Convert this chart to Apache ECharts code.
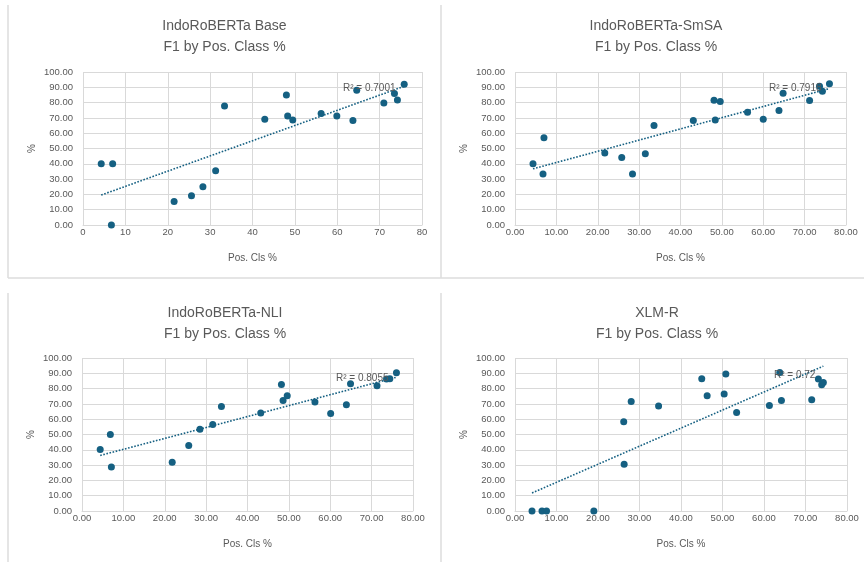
<!DOCTYPE html>
<html><head><meta charset="utf-8">
<script src="https://cdn.jsdelivr.net/npm/echarts@6/dist/echarts.min.js"></script>
<style>html,body{margin:0;padding:0;background:#fff}#c{width:864px;height:562px}</style>
</head><body><div id="c"></div>
<script>
// ---- data ----
const panelTitles = ['IndoRoBERTa Base', 'IndoRoBERTa-SmSA', 'IndoRoBERTa-NLI', 'XLM-R'];
const subTitle = 'F1 by Pos. Class %';
const r2Labels = ['R\u00B2 = 0.7001', 'R\u00B2 = 0.7918', 'R\u00B2 = 0.8055', 'R\u00B2 = 0.72'];
const xAxisName = 'Pos. Cls %';
const yAxisName = '%';

const baseX = [4.3, 7.0, 6.7, 21.5, 25.6, 28.3, 31.3, 33.4, 42.9, 48.0, 48.3, 49.5, 56.2, 59.9, 63.7, 64.6, 71.0, 73.5, 74.2, 75.8];
const baseY = [40.0, 40.0, 0.0, 15.4, 19.1, 25.0, 35.4, 77.8, 69.1, 85.0, 71.3, 68.7, 72.8, 71.3, 68.3, 88.0, 79.8, 85.9, 81.7, 92.0];

const smsaX = [4.35, 7.0, 6.77, 21.7, 25.8, 28.4, 31.5, 33.6, 43.1, 48.1, 48.4, 49.6, 56.2, 60.0, 63.8, 64.8, 71.2, 73.6, 74.3, 76.0];
const smsaY = [40.0, 57.0, 33.3, 47.0, 44.1, 33.3, 46.5, 65.0, 68.3, 81.5, 68.7, 80.7, 73.7, 69.1, 74.8, 86.1, 81.3, 90.7, 87.4, 92.4];

const nliX = [4.4, 6.85, 7.1, 21.8, 25.8, 28.5, 31.6, 33.7, 43.2, 48.2, 48.6, 49.6, 56.3, 60.1, 63.9, 64.9, 71.3, 73.6, 74.4, 76.0];
const nliY = [40.2, 50.0, 28.8, 31.9, 42.8, 53.5, 56.6, 68.3, 64.0, 82.7, 72.2, 75.3, 71.2, 63.7, 69.4, 83.2, 81.9, 86.2, 86.4, 90.4];

const xlmrX = [4.1, 6.5, 7.6, 19.0, 26.2, 26.3, 28.0, 34.6, 45.0, 46.3, 50.4, 50.8, 53.4, 61.3, 63.8, 64.2, 71.5, 73.1, 73.9, 74.3];
const xlmrY = [0.0, 0.0, 0.0, 0.0, 58.3, 30.6, 71.6, 68.6, 86.4, 75.3, 76.4, 89.5, 64.4, 69.0, 90.6, 72.2, 72.7, 86.2, 82.5, 84.0];

const yTicks = {min: 0, max: 100, interval: 10};
const xTicks = {min: 0, max: 80, interval: 10};

// ---- layout ----
const FONT = '"Liberation Sans", Arial, sans-serif';
const GRAY = '#595959';
const GRID = '#d9d9d9';
const MARK = '#156082';

const panels = [
  {xs: baseX, ys: baseY, grid: {left: 83, top: 72, width: 339, height: 153}, tc: 224.5, tt: 15.5, r2: [343, 88], intX: true},
  {xs: smsaX, ys: smsaY, grid: {left: 515, top: 72, width: 331, height: 153}, tc: 656, tt: 15.5, r2: [769, 88], intX: false},
  {xs: nliX, ys: nliY, grid: {left: 82, top: 358, width: 331, height: 153}, tc: 225, tt: 302.5, r2: [336, 378], intX: false},
  {xs: xlmrX, ys: xlmrY, grid: {left: 515, top: 358, width: 332, height: 153}, tc: 657, tt: 302.5, r2: [774, 375], intX: false}
];

function trend(xs, ys) {
  const n = xs.length;
  let mx = 0, my = 0;
  for (let i = 0; i < n; i++) { mx += xs[i]; my += ys[i]; }
  mx /= n; my /= n;
  let sxy = 0, sxx = 0;
  for (let i = 0; i < n; i++) { sxy += (xs[i] - mx) * (ys[i] - my); sxx += (xs[i] - mx) * (xs[i] - mx); }
  const b = sxy / sxx, a = my - b * mx;
  const x0 = Math.min(...xs), x1 = Math.max(...xs);
  return [[x0, a + b * x0], [x1, a + b * x1]];
}

const grids = [], xAxes = [], yAxes = [], series = [], graphics = [];

// frame lines
const frameLine = (x1, y1, x2, y2) => ({type: 'line', shape: {x1, y1, x2, y2}, style: {stroke: '#dcdcdc', lineWidth: 1.5}, silent: true});
graphics.push(frameLine(8, 5, 8, 278), frameLine(441, 5, 441, 278), frameLine(8, 278, 864, 278),
              frameLine(8, 293, 8, 562), frameLine(441, 293, 441, 562));

panels.forEach((p, i) => {
  grids.push(Object.assign({containLabel: false}, p.grid));
  xAxes.push({
    type: 'value', gridIndex: i, min: xTicks.min, max: xTicks.max, interval: xTicks.interval,
    name: xAxisName, nameLocation: 'middle', nameGap: 28,
    nameTextStyle: {color: GRAY, fontSize: 10, fontFamily: FONT},
    axisLine: {show: true, lineStyle: {color: GRID, width: 1}},
    axisTick: {show: false},
    axisLabel: {color: GRAY, fontSize: 9.5, fontFamily: FONT, margin: 2,
      formatter: v => p.intX ? String(v) : v.toFixed(2)},
    splitLine: {show: true, lineStyle: {color: GRID, width: 1}}
  });
  yAxes.push({
    type: 'value', gridIndex: i, min: yTicks.min, max: yTicks.max, interval: yTicks.interval,
    name: yAxisName, nameLocation: 'middle', nameGap: 46, nameRotate: 90,
    nameTextStyle: {color: GRAY, fontSize: 10, fontFamily: FONT},
    axisLine: {show: false}, axisTick: {show: false},
    axisLabel: {color: GRAY, fontSize: 9.5, fontFamily: FONT, margin: 10, formatter: v => v.toFixed(2)},
    splitLine: {show: true, lineStyle: {color: GRID, width: 1}}
  });
  series.push({
    type: 'line', xAxisIndex: i, yAxisIndex: i, data: trend(p.xs, p.ys),
    symbol: 'none', silent: true, z: 2,
    lineStyle: {color: MARK, width: 1.6, type: [1.6, 1.6], cap: 'butt'}
  });
  series.push({
    type: 'scatter', xAxisIndex: i, yAxisIndex: i, z: 3,
    data: p.xs.map((x, k) => [x, p.ys[k]]),
    symbol: 'circle', symbolSize: 7,
    itemStyle: {color: MARK, opacity: 1}
  });
  graphics.push({
    type: 'text', silent: true, z: 10,
    style: {text: panelTitles[i] + '\n' + subTitle, x: p.tc, y: p.tt, textAlign: 'center', textVerticalAlign: 'top',
      fontSize: 14, lineHeight: 21, fontFamily: FONT, fill: GRAY}
  });
  graphics.push({
    type: 'text', silent: true, z: 10,
    style: {text: r2Labels[i], x: p.r2[0], y: p.r2[1], textAlign: 'left', textVerticalAlign: 'middle',
      fontSize: 10, fontFamily: FONT, fill: GRAY}
  });
});

const chart = echarts.init(document.getElementById('c'), null, {renderer: 'canvas'});
chart.setOption({
  backgroundColor: '#ffffff',
  animation: false,
  grid: grids, xAxis: xAxes, yAxis: yAxes, series: series,
  graphic: graphics
});
</script>
</body></html>
